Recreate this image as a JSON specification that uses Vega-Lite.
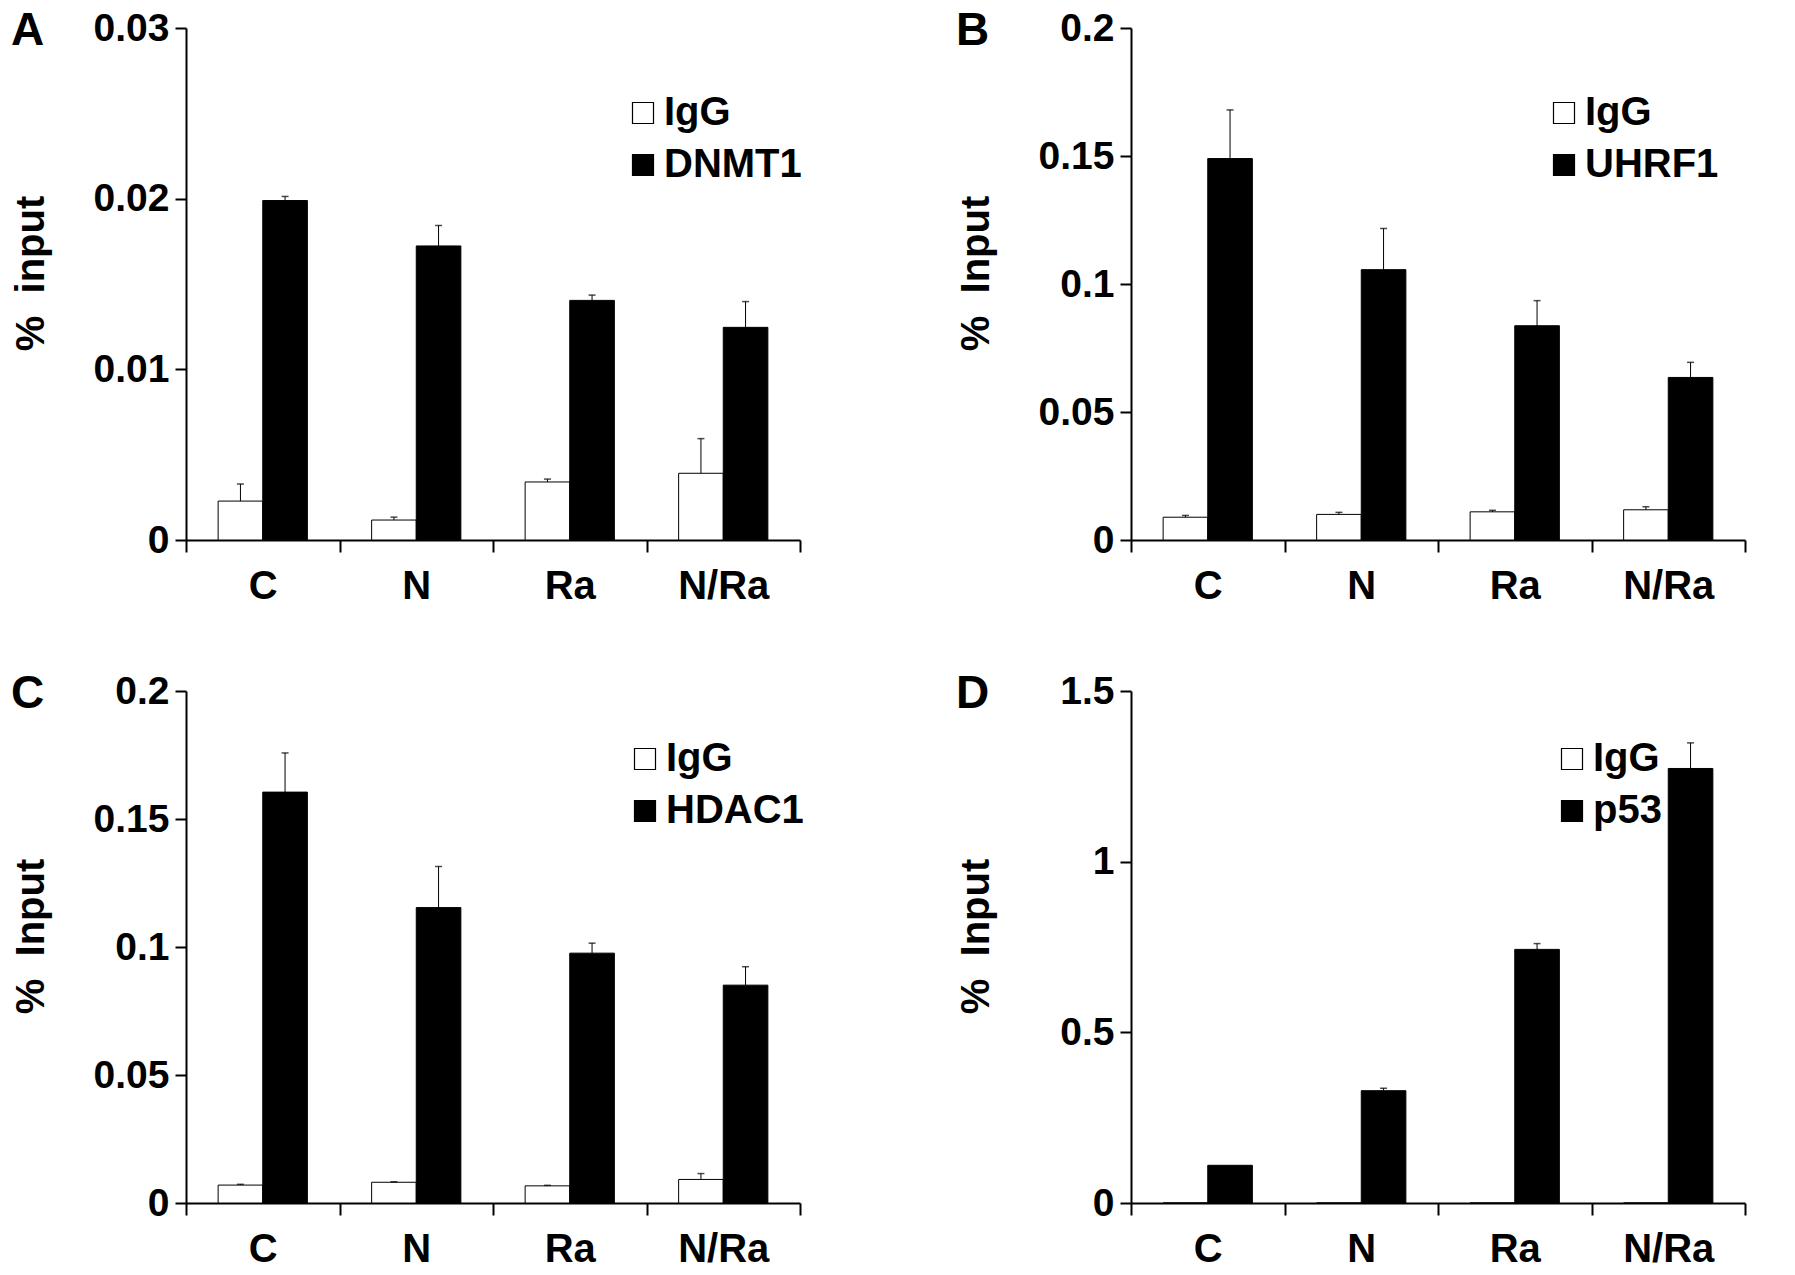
{
  "$schema": "https://vega.github.io/schema/vega-lite/v6.json",
  "padding": {"left": 11, "top": 8, "right": 5, "bottom": 5},
  "background": "white",
  "columns": 2,
  "spacing": {"row": 151, "column": 331},
  "bounds": "flush",
  "resolve": {"scale": {"fill": "independent", "xOffset": "independent", "x": "independent", "y": "independent"}, "legend": {"fill": "independent"}, "axis": {"x": "independent", "y": "independent"}},
  "config": {
    "font": "Liberation Sans",
    "view": {"stroke": null},
    "axis": {"domainColor": "black", "domainWidth": 2, "tickColor": "black", "tickWidth": 2, "labelColor": "black", "titleColor": "black", "labelFont": "Liberation Sans", "titleFont": "Liberation Sans", "labelFontWeight": "bold", "labelFontSize": 39, "titleFontSize": 40, "titleFontWeight": "bold", "grid": false},
    "axisX": {"tickSize": 12, "labelPadding": 14, "labelAngle": 0, "tickBand": "extent", "title": null, "labelFontSize": 40},
    "axisY": {"tickSize": 11, "labelPadding": 6, "titleX": -143, "titleY": 245, "titleBaseline": "alphabetic"},
    "legend": {"orient": "none", "title": null, "labelFont": "Liberation Sans", "labelFontSize": 40, "labelFontWeight": "bold", "labelColor": "black", "symbolType": "square", "symbolSize": 441, "symbolStrokeColor": "black", "symbolStrokeWidth": 1.2, "rowPadding": 12, "labelOffset": 1, "padding": 0},
    "title": {"font": "Liberation Sans", "fontSize": 46, "fontWeight": "bold", "anchor": "start", "frame": "bounds", "baseline": "alphabetic", "dy": 50, "offset": 0, "color": "black"}
  },
  "datasets": {
    "A": [
      {"group": "C", "antibody": "IgG", "value": 0.00228, "err": 0.00328},
      {"group": "C", "antibody": "DNMT1", "value": 0.01989, "err": 0.02013},
      {"group": "N", "antibody": "IgG", "value": 0.00117, "err": 0.00134},
      {"group": "N", "antibody": "DNMT1", "value": 0.01723, "err": 0.01843},
      {"group": "Ra", "antibody": "IgG", "value": 0.0034, "err": 0.00357},
      {"group": "Ra", "antibody": "DNMT1", "value": 0.01404, "err": 0.01435},
      {"group": "N/Ra", "antibody": "IgG", "value": 0.00391, "err": 0.00594},
      {"group": "N/Ra", "antibody": "DNMT1", "value": 0.01246, "err": 0.01397}
    ],
    "B": [
      {"group": "C", "antibody": "IgG", "value": 0.0089, "err": 0.0096},
      {"group": "C", "antibody": "UHRF1", "value": 0.149, "err": 0.168},
      {"group": "N", "antibody": "IgG", "value": 0.0100, "err": 0.0108},
      {"group": "N", "antibody": "UHRF1", "value": 0.1056, "err": 0.1217},
      {"group": "Ra", "antibody": "IgG", "value": 0.0110, "err": 0.0116},
      {"group": "Ra", "antibody": "UHRF1", "value": 0.0837, "err": 0.0935},
      {"group": "N/Ra", "antibody": "IgG", "value": 0.0118, "err": 0.0130},
      {"group": "N/Ra", "antibody": "UHRF1", "value": 0.0635, "err": 0.0694}
    ],
    "C": [
      {"group": "C", "antibody": "IgG", "value": 0.0070, "err": 0.0073},
      {"group": "C", "antibody": "HDAC1", "value": 0.1605, "err": 0.1758},
      {"group": "N", "antibody": "IgG", "value": 0.0081, "err": 0.0083},
      {"group": "N", "antibody": "HDAC1", "value": 0.1154, "err": 0.1314},
      {"group": "Ra", "antibody": "IgG", "value": 0.0067, "err": 0.0069},
      {"group": "Ra", "antibody": "HDAC1", "value": 0.0976, "err": 0.1015},
      {"group": "N/Ra", "antibody": "IgG", "value": 0.0092, "err": 0.0115},
      {"group": "N/Ra", "antibody": "HDAC1", "value": 0.0851, "err": 0.0923}
    ],
    "D": [
      {"group": "C", "antibody": "IgG", "value": 0},
      {"group": "C", "antibody": "p53", "value": 0.1105},
      {"group": "N", "antibody": "IgG", "value": 0},
      {"group": "N", "antibody": "p53", "value": 0.329, "err": 0.336},
      {"group": "Ra", "antibody": "IgG", "value": 0},
      {"group": "Ra", "antibody": "p53", "value": 0.743, "err": 0.76},
      {"group": "N/Ra", "antibody": "IgG", "value": 0},
      {"group": "N/Ra", "antibody": "p53", "value": 1.273, "err": 1.348}
    ]
  },
  "concat": [
    {
      "width": 614, "height": 512,
      "title": {"text": "A"},
      "data": {"name": "A"},
      "encoding": {
        "x": {"field": "group", "type": "nominal", "sort": ["C", "N", "Ra", "N/Ra"], "scale": {"paddingInner": 0, "paddingOuter": 0}},
        "xOffset": {"field": "antibody", "type": "nominal", "sort": ["IgG", "DNMT1"], "scale": {"paddingInner": 0, "paddingOuter": 0.72}}
      },
      "layer": [
        {"mark": {"type": "bar", "stroke": "black", "strokeWidth": 1},
         "encoding": {
           "y": {"field": "value", "type": "quantitative", "scale": {"domain": [0, 0.03], "nice": false}, "axis": {"title": "%\u00a0\u00a0input", "values": [0, 0.01, 0.02, 0.03], "format": "~g"}},
           "fill": {"field": "antibody", "type": "nominal", "scale": {"domain": ["IgG", "DNMT1"], "range": ["white", "black"]}, "legend": {"legendX": 437, "legendY": 65}}
         }},
        {"transform": [{"filter": "datum.err != null"}], "mark": {"type": "rule", "color": "black", "strokeWidth": 1},
         "encoding": {"y": {"field": "value", "type": "quantitative"}, "y2": {"field": "err"}}},
        {"transform": [{"filter": "datum.err != null"}], "mark": {"type": "tick", "orient": "horizontal", "color": "black", "size": 7, "thickness": 1.5},
         "encoding": {"y": {"field": "err", "type": "quantitative"}}}
      ]
    },
    {
      "width": 614, "height": 512,
      "title": {"text": "B"},
      "data": {"name": "B"},
      "encoding": {
        "x": {"field": "group", "type": "nominal", "sort": ["C", "N", "Ra", "N/Ra"], "scale": {"paddingInner": 0, "paddingOuter": 0}},
        "xOffset": {"field": "antibody", "type": "nominal", "sort": ["IgG", "UHRF1"], "scale": {"paddingInner": 0, "paddingOuter": 0.72}}
      },
      "layer": [
        {"mark": {"type": "bar", "stroke": "black", "strokeWidth": 1},
         "encoding": {
           "y": {"field": "value", "type": "quantitative", "scale": {"domain": [0, 0.2], "nice": false}, "axis": {"title": "%\u00a0\u00a0Input", "values": [0, 0.05, 0.1, 0.15, 0.2], "format": "~g"}},
           "fill": {"field": "antibody", "type": "nominal", "scale": {"domain": ["IgG", "UHRF1"], "range": ["white", "black"]}, "legend": {"legendX": 413, "legendY": 65}}
         }},
        {"transform": [{"filter": "datum.err != null"}], "mark": {"type": "rule", "color": "black", "strokeWidth": 1},
         "encoding": {"y": {"field": "value", "type": "quantitative"}, "y2": {"field": "err"}}},
        {"transform": [{"filter": "datum.err != null"}], "mark": {"type": "tick", "orient": "horizontal", "color": "black", "size": 7, "thickness": 1.5},
         "encoding": {"y": {"field": "err", "type": "quantitative"}}}
      ]
    },
    {
      "width": 614, "height": 512,
      "title": {"text": "C"},
      "data": {"name": "C"},
      "encoding": {
        "x": {"field": "group", "type": "nominal", "sort": ["C", "N", "Ra", "N/Ra"], "scale": {"paddingInner": 0, "paddingOuter": 0}},
        "xOffset": {"field": "antibody", "type": "nominal", "sort": ["IgG", "HDAC1"], "scale": {"paddingInner": 0, "paddingOuter": 0.72}}
      },
      "layer": [
        {"mark": {"type": "bar", "stroke": "black", "strokeWidth": 1},
         "encoding": {
           "y": {"field": "value", "type": "quantitative", "scale": {"domain": [0, 0.2], "nice": false}, "axis": {"title": "%\u00a0\u00a0Input", "values": [0, 0.05, 0.1, 0.15, 0.2], "format": "~g"}},
           "fill": {"field": "antibody", "type": "nominal", "scale": {"domain": ["IgG", "HDAC1"], "range": ["white", "black"]}, "legend": {"legendX": 439, "legendY": 48}}
         }},
        {"transform": [{"filter": "datum.err != null"}], "mark": {"type": "rule", "color": "black", "strokeWidth": 1},
         "encoding": {"y": {"field": "value", "type": "quantitative"}, "y2": {"field": "err"}}},
        {"transform": [{"filter": "datum.err != null"}], "mark": {"type": "tick", "orient": "horizontal", "color": "black", "size": 7, "thickness": 1.5},
         "encoding": {"y": {"field": "err", "type": "quantitative"}}}
      ]
    },
    {
      "width": 614, "height": 512,
      "title": {"text": "D"},
      "data": {"name": "D"},
      "encoding": {
        "x": {"field": "group", "type": "nominal", "sort": ["C", "N", "Ra", "N/Ra"], "scale": {"paddingInner": 0, "paddingOuter": 0}},
        "xOffset": {"field": "antibody", "type": "nominal", "sort": ["IgG", "p53"], "scale": {"paddingInner": 0, "paddingOuter": 0.72}}
      },
      "layer": [
        {"mark": {"type": "bar", "stroke": "black", "strokeWidth": 1},
         "encoding": {
           "y": {"field": "value", "type": "quantitative", "scale": {"domain": [0, 1.5], "nice": false}, "axis": {"title": "%\u00a0\u00a0Input", "values": [0, 0.5, 1, 1.5], "format": "~g"}},
           "fill": {"field": "antibody", "type": "nominal", "scale": {"domain": ["IgG", "p53"], "range": ["white", "black"]}, "legend": {"legendX": 421, "legendY": 48}}
         }},
        {"transform": [{"filter": "datum.err != null"}], "mark": {"type": "rule", "color": "black", "strokeWidth": 1},
         "encoding": {"y": {"field": "value", "type": "quantitative"}, "y2": {"field": "err"}}},
        {"transform": [{"filter": "datum.err != null"}], "mark": {"type": "tick", "orient": "horizontal", "color": "black", "size": 7, "thickness": 1.5},
         "encoding": {"y": {"field": "err", "type": "quantitative"}}}
      ]
    }
  ]
}
